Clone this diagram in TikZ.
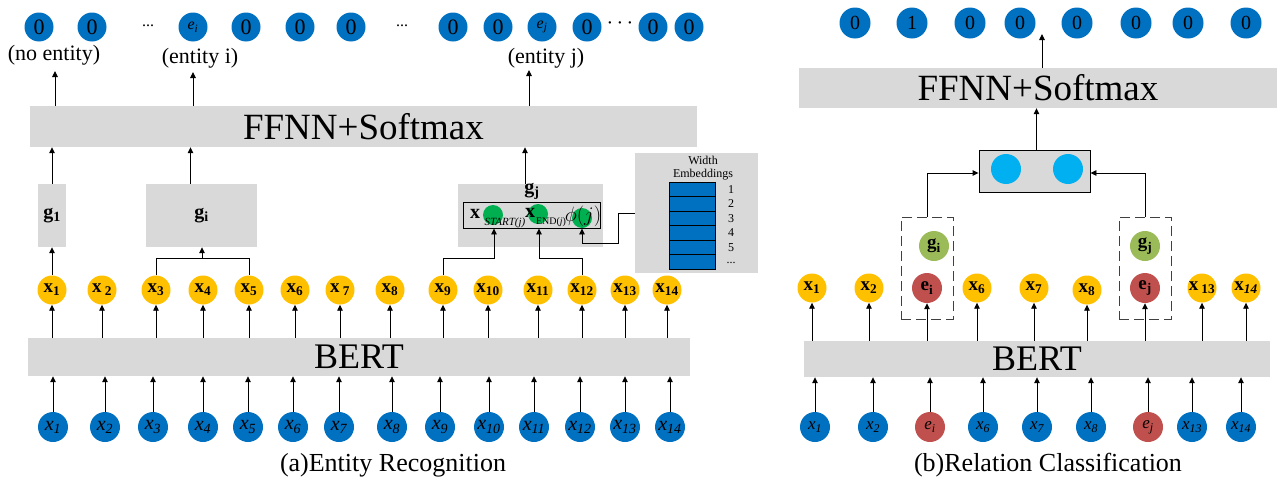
\documentclass[tikz,border=0pt]{standalone}
\usepackage{fontspec}
\setmainfont{Liberation Serif}
\usetikzlibrary{arrows.meta,calc}
\definecolor{cblue}{HTML}{0070C0}
\definecolor{cyel}{HTML}{FFC000}
\definecolor{cgray}{HTML}{D9D9D9}
\definecolor{cgreen}{HTML}{00B050}
\definecolor{cgreenl}{HTML}{9BBB59}
\definecolor{cred}{HTML}{C0504D}
\definecolor{ccyan}{HTML}{00B0F0}
\newcommand\myfs[1]{\fontsize{#1}{#1}\selectfont}
\newcommand\bx[1]{x\textsubscript{#1}}
\tikzset{
  bc/.style={circle,fill=cblue,minimum size=29pt,inner sep=0pt,font=\myfs{22}},
  bcr/.style={circle,fill=cblue,minimum size=31pt,inner sep=0pt,font=\myfs{20}},
  yc/.style={circle,fill=cyel,minimum size=29pt,inner sep=0pt,font=\myfs{19}\bfseries},
  ic/.style={circle,fill=cblue,minimum size=30pt,inner sep=0pt,font=\myfs{20}\itshape},
  rc/.style={circle,fill=cred,minimum size=30pt,inner sep=0pt},
  gc/.style={circle,fill=cgreenl,minimum size=30pt,inner sep=0pt,font=\myfs{19}\bfseries},
  gbox/.style={fill=cgray,inner sep=0pt},
  arr/.style={-{Triangle[length=6pt,width=5.5pt]},line width=0.9pt},
  ln/.style={line width=0.9pt},
  dbox/.style={draw=black!75,dash pattern=on 10pt off 5pt,line width=0.9pt,minimum width=52pt,minimum height=102pt,inner sep=0pt},
  lab/.style={font=\myfs{22},inner sep=0pt},
  captxt/.style={font=\myfs{26},inner sep=0pt},
  wrect/.style={draw=black,fill=cblue,line width=0.8pt,minimum width=46pt,minimum height=14.5pt,inner sep=0pt},
}
\begin{document}
\begin{tikzpicture}[x=1pt,y=-1pt]
\useasboundingbox (0,0) rectangle (1277,482);
%% ================= LEFT PANEL =================
% output row
\node[bc] (o1) at (39,27) {0};
\node[bc] (o2) at (92,27) {0};
\node[font=\myfs{16},inner sep=0pt] (d1) at (148,26) {...};
\node[bc,font=\myfs{16}\itshape] (o3) at (193,27) {e\textsubscript{i}};
\node[bc] (o4) at (246,27) {0};
\node[bc] (o5) at (300,27) {0};
\node[bc] (o6) at (351,27) {0};
\node[font=\myfs{16},inner sep=0pt] (d2) at (402,26) {...};
\node[bc] (o7) at (453,27) {0};
\node[bc] (o8) at (498,27) {0};
\node[bc,font=\myfs{16}\itshape] (o9) at (542,27) {e\textsubscript{j}};
\node[bc] (o10) at (587,27) {0};
\node[font=\myfs{20},inner sep=0pt] (d3) at (620,26) {·\,·\,·};
\node[bc] (o11) at (653,27) {0};
\node[bc] (o12) at (689,27) {0};
% labels
\node[lab] (l1) at (54,55) {(no entity)};
\node[lab] (l2) at (200,58) {(entity i)};
\node[lab] (l3) at (546,58) {(entity j)};
\coordinate (a1) at (55,71);
\coordinate (a2) at (193,72);
\coordinate (a3) at (529,70);
% FFNN
\node[gbox,minimum width=667pt,minimum height=41pt,font=\myfs{37}] (ffnnL) at (363.5,126.5) {FFNN+Softmax};
\draw[arr] (ffnnL.north -| a1) -- (a1);
\draw[arr] (ffnnL.north -| a2) -- (a2);
\draw[arr] (ffnnL.north -| a3) -- (a3);
% g boxes
\node[gbox,minimum width=28pt,minimum height=63pt,font=\myfs{20}\bfseries] (g1) at (52,215.5) {g\textsubscript{1}};
\node[gbox,minimum width=111pt,minimum height=63pt,font=\myfs{20}\bfseries] (gi) at (201.5,215.5) {g\textsubscript{i}};
\node[gbox,minimum width=145pt,minimum height=63pt] (gj) at (530.5,215.5) {};
\node[font=\myfs{20}\bfseries,inner sep=0pt] (gjl) at (532,191) {g\textsubscript{j}};
\node[draw=black,fill=cgray,line width=0.9pt,minimum width=137pt,minimum height=26pt,inner sep=0pt] (inner) at (531.5,215) {};
\node[circle,fill=cgreen,minimum size=20pt,inner sep=0pt] (s1) at (493,215) {};
\node[circle,fill=cgreen,minimum size=20pt,inner sep=0pt] (s2) at (538,214) {};
\node[circle,fill=cgreen,minimum size=20pt,inner sep=0pt] (s3) at (582,218) {};
\node[font=\myfs{20}\bfseries,inner sep=0pt] (xs) at (475,214) {x};
\node[font=\myfs{11}\itshape,inner sep=0pt] (xst) at (505,223) {START(j)};
\node[font=\myfs{20}\bfseries,inner sep=0pt] (xe) at (530,213) {x};
\node[font=\myfs{10},inner sep=0pt] (xen) at (551,222) {END(\textit{j})};
\node[font=\myfs{20},inner sep=0pt] (phi) at (583,216) {$\phi(j)$};
\draw[arr] (g1.north) -- (g1.north |- ffnnL.south);
\draw[arr] ([xshift=-11pt]gi.north) -- ([xshift=-11pt]gi.north |- ffnnL.south);
\draw[arr] ([xshift=-5.5pt]gj.north) -- ([xshift=-5.5pt]gj.north |- ffnnL.south);
% width embeddings
\node[gbox,minimum width=123pt,minimum height=120pt] (we) at (696.5,213) {};
\node[font=\myfs{12},inner sep=0pt] (wt1) at (703,160) {Width};
\node[font=\myfs{12},inner sep=0pt] (wt2) at (703,175) {Embeddings};
\foreach \k in {0,1,2,3,4}{
  \node[wrect] (we\k) at (692,{189.25+\k*14.5}) {};
  \pgfmathtruncatemacro\kk{\k+1}
  \node[font=\myfs{12},inner sep=0pt] (wn\k) at (731,{189.25+\k*14.5}) {\kk};
}
\node[wrect] (we5) at (692,261.75) {};
\node[font=\myfs{12},inner sep=0pt] (wn5) at (731,263) {...};
% yellow row
\node[yc] (y1) at (52,290) {\bx{1}};
\node[yc] (y2) at (102,290) {x\,\textsubscript{2}};
\node[yc] (y3) at (156,290) {\bx{3}};
\node[yc] (y4) at (203,290) {\bx{4}};
\node[yc] (y5) at (249,290) {\bx{5}};
\node[yc] (y6) at (295,290) {\bx{6}};
\node[yc] (y7) at (340,290) {x\,\textsubscript{7}};
\node[yc] (y8) at (390,290) {\bx{8}};
\node[yc] (y9) at (443,290) {\bx{9}};
\node[yc] (y10) at (488,290) {\bx{10}};
\node[yc] (y11) at (538,290) {\bx{11}};
\node[yc] (y12) at (582,290) {\bx{12}};
\node[yc] (y13) at (625,290) {\bx{13}};
\node[yc] (y14) at (667,290) {\bx{14}};
\draw[arr] (y1.north) -- (g1.south);
\coordinate (bri) at (202,258);
\draw[ln] (y3.north) |- (y5.north |- bri) -- (y5.north);
\draw[arr] (bri) -- (bri |- gi.south);
\coordinate (sa) at (494,258);
\coordinate (sb) at (539,258);
\draw[arr] (y9.north) |- (sa) -- (sa |- inner.south);
\draw[arr] (y12.north) |- (sb) -- (sb |- inner.south);
\coordinate (wa) at (618,213);
\coordinate (wb) at (582,243);
\draw[arr] (we.west |- wa) -- (wa) |- (wb) -- (wb |- inner.south);
% BERT
\node[gbox,minimum width=662pt,minimum height=38pt,font=\myfs{36}] (bertL) at (359,357) {BERT};
\foreach \i in {1,...,14}{\draw[arr] (y\i.south |- bertL.north) -- (y\i.south);}
% inputs
\node[ic] (i1) at (53,427) {x\textsubscript{1}};
\node[ic] (i2) at (105,427) {x\textsubscript{2}};
\node[ic] (i3) at (153,427) {x\textsubscript{3}};
\node[ic] (i4) at (203,427) {x\textsubscript{4}};
\node[ic] (i5) at (248,427) {x\textsubscript{5}};
\node[ic] (i6) at (293,427) {x\textsubscript{6}};
\node[ic] (i7) at (339,427) {x\textsubscript{7}};
\node[ic] (i8) at (392,427) {x\textsubscript{8}};
\node[ic] (i9) at (440,427) {x\textsubscript{9}};
\node[ic] (i10) at (489,427) {x\textsubscript{10}};
\node[ic] (i11) at (534,427) {x\textsubscript{11}};
\node[ic] (i12) at (580,427) {x\textsubscript{12}};
\node[ic] (i13) at (625,427) {x\textsubscript{13}};
\node[ic] (i14) at (670,427) {x\textsubscript{14}};
\foreach \i in {1,...,14}{\draw[arr] (i\i.north) -- (i\i.north |- bertL.south);}
\node[captxt] (capL) at (393,465) {(a)Entity Recognition};
%% ================= RIGHT PANEL =================
\node[bcr] (r1) at (855,23) {0};
\node[bcr] (r2) at (912,23) {1};
\node[bcr] (r3) at (970,23) {0};
\node[bcr] (r4) at (1020,23) {0};
\node[bcr] (r5) at (1077,23) {0};
\node[bcr] (r6) at (1136,23) {0};
\node[bcr] (r7) at (1188,23) {0};
\node[bcr] (r8) at (1246,23) {0};
\coordinate (ar) at (1042,34);
\node[gbox,minimum width=478pt,minimum height=40pt,font=\myfs{37}] (ffnnR) at (1038,88) {FFNN+Softmax};
\draw[arr] (ffnnR.north -| ar) -- (ar);
\node[draw=black,fill=cgray,line width=0.9pt,minimum width=111pt,minimum height=42pt,inner sep=0pt] (cat) at (1034.5,171) {};
\node[circle,fill=ccyan,minimum size=30pt,inner sep=0pt] (c1) at (1006,169) {};
\node[circle,fill=ccyan,minimum size=30pt,inner sep=0pt] (c2) at (1068,169) {};
\draw[arr] ([xshift=2pt]cat.north) -- ([xshift=2pt]cat.north |- ffnnR.south);
\node[dbox] (dl) at (927,268) {};
\node[dbox] (dr) at (1145,268) {};
\draw[arr] (dl.north) |- ([yshift=-2pt]cat.west);
\draw[arr] (dr.north) |- ([yshift=-2pt]cat.east);
\node[gc] (gri) at (934,246) {g\textsubscript{i}};
\node[gc] (grj) at (1145,246) {g\textsubscript{j}};
\node[rc,font=\myfs{19}\bfseries] (eri) at (927,288) {e\textsubscript{i}};
\node[rc,font=\myfs{19}\bfseries] (erj) at (1145,288) {e\textsubscript{j}};
\node[yc] (yr1) at (812,288) {\bx{1}};
\node[yc] (yr2) at (869,288) {\bx{2}};
\node[yc] (yr3) at (977,288) {\bx{6}};
\node[yc] (yr4) at (1034,288) {\bx{7}};
\node[yc] (yr5) at (1087,290) {\bx{8}};
\node[yc] (yr6) at (1202,288) {x\,\textsubscript{13}};
\node[yc] (yr7) at (1246,288) {x\textsubscript{\textit{14}}};
\node[gbox,minimum width=466pt,minimum height=36pt,font=\myfs{36}] (bertR) at (1037,359) {BERT};
\foreach \i in {1,...,7}{\draw[arr] (yr\i.south |- bertR.north) -- (yr\i.south);}
\draw[arr] (eri.south |- bertR.north) -- (eri.south);
\draw[arr] (erj.south |- bertR.north) -- (erj.south);
\node[ic,font=\myfs{17}\itshape] (ir1) at (815,427) {x\textsubscript{1}};
\node[ic,font=\myfs{17}\itshape] (ir2) at (873,427) {x\textsubscript{2}};
\node[rc,font=\myfs{17}\itshape] (ir3) at (930,427) {e\textsubscript{i}};
\node[ic,font=\myfs{17}\itshape] (ir4) at (983,427) {x\textsubscript{6}};
\node[ic,font=\myfs{17}\itshape] (ir5) at (1037,427) {x\textsubscript{7}};
\node[ic,font=\myfs{17}\itshape] (ir6) at (1091,427) {x\textsubscript{8}};
\node[rc,font=\myfs{17}\itshape] (ir7) at (1148,427) {e\textsubscript{j}};
\node[ic,font=\myfs{17}\itshape] (ir8) at (1192,427) {x\textsubscript{13}};
\node[ic,font=\myfs{17}\itshape] (ir9) at (1241,427) {x\textsubscript{14}};
\foreach \i in {1,...,9}{\draw[arr] (ir\i.north) -- (ir\i.north |- bertR.south);}
\node[captxt] (capR) at (1048,465) {(b)Relation Classification};
\end{tikzpicture}
\end{document}
